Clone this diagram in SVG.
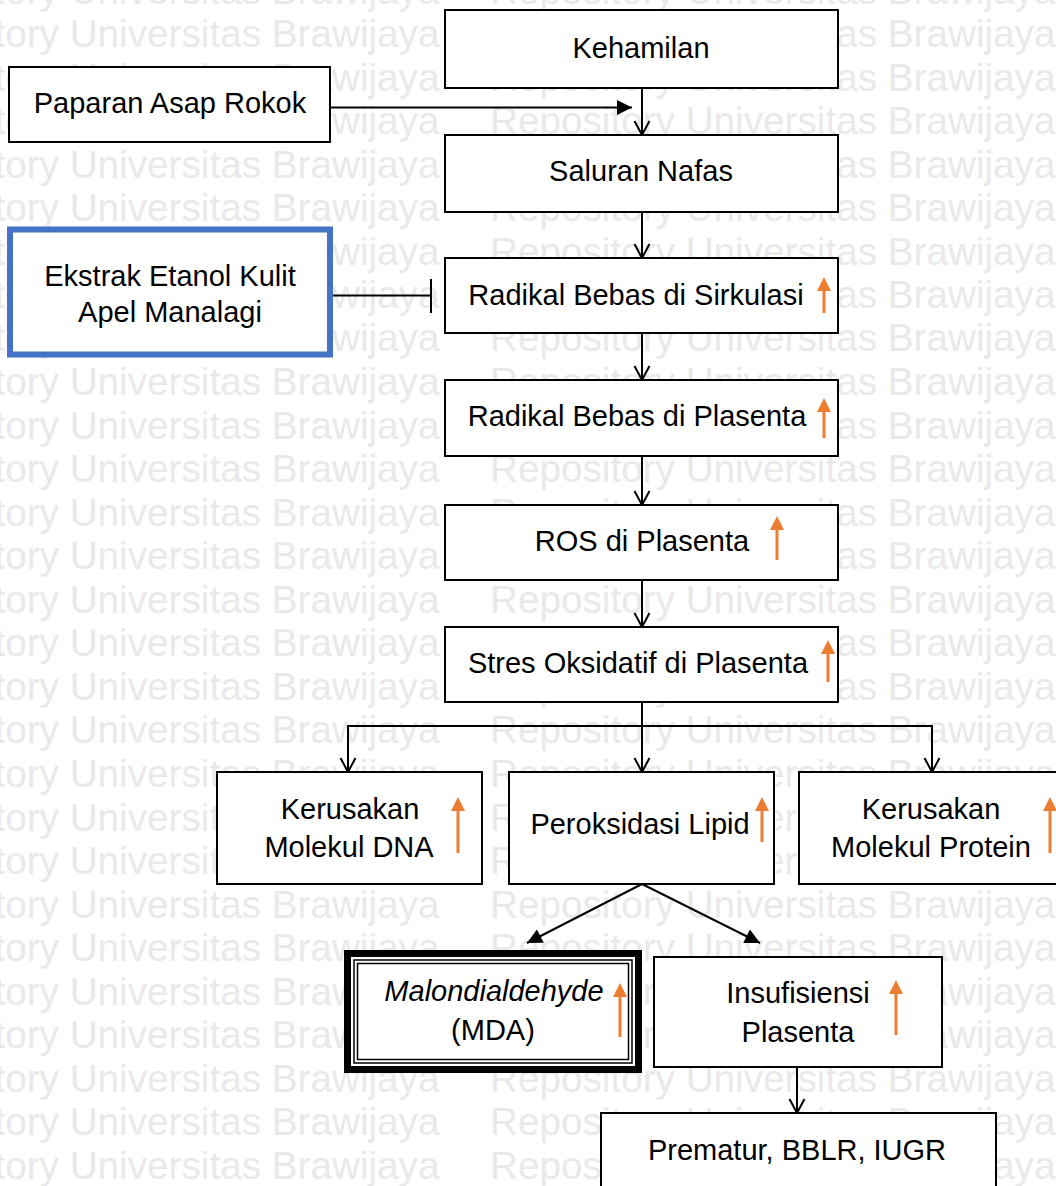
<svg xmlns="http://www.w3.org/2000/svg" width="1056" height="1186" viewBox="0 0 1056 1186">
<style>
.wm{font-family:"Liberation Sans",Arial,sans-serif;font-size:38.7px;fill:#e9e9e9}
.box{fill:#fff;stroke:#000;stroke-width:2}
.t{font-family:"Liberation Sans",Arial,sans-serif;font-size:29px;fill:#000;text-anchor:middle}
.it{font-style:italic}
.c{fill:none;stroke:#000;stroke-width:2}
.up{fill:none;stroke:#ED7D31;stroke-width:3}
.uph{fill:#ED7D31;stroke:none}
</style>
<defs>
<marker id="open" markerUnits="userSpaceOnUse" viewBox="-16 -9 18 18" refX="0" refY="0" markerWidth="18" markerHeight="18" orient="auto">
<path d="M-14,-7.5 L0,0 L-14,7.5" fill="none" stroke="#000" stroke-width="2"/>
</marker>
<marker id="solid" markerUnits="userSpaceOnUse" viewBox="-16 -9 18 18" refX="0" refY="0" markerWidth="18" markerHeight="18" orient="auto">
<path d="M-15,-7.5 L0,0 L-15,7.5 Z" fill="#000"/>
</marker>
</defs>
<rect width="1056" height="1186" fill="#fff"/>
<g id="watermark">
<text class="wm" x="-126" y="3.5">Repository Universitas Brawijaya</text><text class="wm" x="490" y="3.5">Repository Universitas Brawijaya</text>
<text class="wm" x="-126" y="47">Repository Universitas Brawijaya</text><text class="wm" x="490" y="47">Repository Universitas Brawijaya</text>
<text class="wm" x="-126" y="90.6">Repository Universitas Brawijaya</text><text class="wm" x="490" y="90.6">Repository Universitas Brawijaya</text>
<text class="wm" x="-126" y="134.1">Repository Universitas Brawijaya</text><text class="wm" x="490" y="134.1">Repository Universitas Brawijaya</text>
<text class="wm" x="-126" y="177.7">Repository Universitas Brawijaya</text><text class="wm" x="490" y="177.7">Repository Universitas Brawijaya</text>
<text class="wm" x="-126" y="221.2">Repository Universitas Brawijaya</text><text class="wm" x="490" y="221.2">Repository Universitas Brawijaya</text>
<text class="wm" x="-126" y="264.8">Repository Universitas Brawijaya</text><text class="wm" x="490" y="264.8">Repository Universitas Brawijaya</text>
<text class="wm" x="-126" y="308.3">Repository Universitas Brawijaya</text><text class="wm" x="490" y="308.3">Repository Universitas Brawijaya</text>
<text class="wm" x="-126" y="351.4">Repository Universitas Brawijaya</text><text class="wm" x="490" y="351.4">Repository Universitas Brawijaya</text>
<text class="wm" x="-126" y="395">Repository Universitas Brawijaya</text><text class="wm" x="490" y="395">Repository Universitas Brawijaya</text>
<text class="wm" x="-126" y="438.5">Repository Universitas Brawijaya</text><text class="wm" x="490" y="438.5">Repository Universitas Brawijaya</text>
<text class="wm" x="-126" y="482.1">Repository Universitas Brawijaya</text><text class="wm" x="490" y="482.1">Repository Universitas Brawijaya</text>
<text class="wm" x="-126" y="525.6">Repository Universitas Brawijaya</text><text class="wm" x="490" y="525.6">Repository Universitas Brawijaya</text>
<text class="wm" x="-126" y="569.2">Repository Universitas Brawijaya</text><text class="wm" x="490" y="569.2">Repository Universitas Brawijaya</text>
<text class="wm" x="-126" y="612.7">Repository Universitas Brawijaya</text><text class="wm" x="490" y="612.7">Repository Universitas Brawijaya</text>
<text class="wm" x="-126" y="656.3">Repository Universitas Brawijaya</text><text class="wm" x="490" y="656.3">Repository Universitas Brawijaya</text>
<text class="wm" x="-126" y="699.8">Repository Universitas Brawijaya</text><text class="wm" x="490" y="699.8">Repository Universitas Brawijaya</text>
<text class="wm" x="-126" y="743.4">Repository Universitas Brawijaya</text><text class="wm" x="490" y="743.4">Repository Universitas Brawijaya</text>
<text class="wm" x="-126" y="786.9">Repository Universitas Brawijaya</text><text class="wm" x="490" y="786.9">Repository Universitas Brawijaya</text>
<text class="wm" x="-126" y="830.5">Repository Universitas Brawijaya</text><text class="wm" x="490" y="830.5">Repository Universitas Brawijaya</text>
<text class="wm" x="-126" y="874">Repository Universitas Brawijaya</text><text class="wm" x="490" y="874">Repository Universitas Brawijaya</text>
<text class="wm" x="-126" y="917.6">Repository Universitas Brawijaya</text><text class="wm" x="490" y="917.6">Repository Universitas Brawijaya</text>
<text class="wm" x="-126" y="961.1">Repository Universitas Brawijaya</text><text class="wm" x="490" y="961.1">Repository Universitas Brawijaya</text>
<text class="wm" x="-126" y="1004.7">Repository Universitas Brawijaya</text><text class="wm" x="490" y="1004.7">Repository Universitas Brawijaya</text>
<text class="wm" x="-126" y="1048.2">Repository Universitas Brawijaya</text><text class="wm" x="490" y="1048.2">Repository Universitas Brawijaya</text>
<text class="wm" x="-126" y="1091.8">Repository Universitas Brawijaya</text><text class="wm" x="490" y="1091.8">Repository Universitas Brawijaya</text>
<text class="wm" x="-126" y="1135.3">Repository Universitas Brawijaya</text><text class="wm" x="490" y="1135.3">Repository Universitas Brawijaya</text>
<text class="wm" x="-126" y="1178.9">Repository Universitas Brawijaya</text><text class="wm" x="490" y="1178.9">Repository Universitas Brawijaya</text>
</g>
<g id="connectors">
<line class="c" x1="331" y1="107.5" x2="632" y2="107.5" marker-end="url(#solid)"/>
<line class="c" x1="642" y1="88" x2="642" y2="135" marker-end="url(#open)"/>
<line class="c" x1="642" y1="212" x2="642" y2="258" marker-end="url(#open)"/>
<line class="c" x1="333" y1="295.5" x2="431" y2="295.5"/>
<line class="c" x1="431" y1="279" x2="431" y2="313"/>
<line class="c" x1="642" y1="333" x2="642" y2="380" marker-end="url(#open)"/>
<line class="c" x1="642" y1="456" x2="642" y2="505" marker-end="url(#open)"/>
<line class="c" x1="642" y1="580" x2="642" y2="627" marker-end="url(#open)"/>
<line class="c" x1="642" y1="702" x2="642" y2="772" marker-end="url(#open)"/>
<polyline class="c" points="348,772 348,726 932,726 932,772"/>
<line class="c" x1="348" y1="740" x2="348" y2="772" marker-end="url(#open)"/>
<line class="c" x1="932" y1="740" x2="932" y2="772" marker-end="url(#open)"/>
<line class="c" x1="642" y1="884" x2="527" y2="943" marker-end="url(#solid)"/>
<line class="c" x1="642" y1="884" x2="760" y2="943" marker-end="url(#solid)"/>
<line class="c" x1="797" y1="1067" x2="797" y2="1113" marker-end="url(#open)"/>
</g>
<g id="kehamilan"><rect class="box" x="445" y="10" width="393" height="78"/><text class="t" x="641" y="58">Kehamilan</text></g>
<g id="paparan"><rect class="box" x="9" y="67" width="321" height="75"/><text class="t" x="170" y="113">Paparan Asap Rokok</text></g>
<g id="saluran"><rect class="box" x="445" y="135" width="393" height="77"/><text class="t" x="641" y="181">Saluran Nafas</text></g>
<g id="ekstrak"><rect x="10" y="229.5" width="320" height="125" fill="#fff" stroke="#4472C4" stroke-width="6"/><text class="t" x="170" y="286">Ekstrak Etanol Kulit</text><text class="t" x="170" y="322">Apel Manalagi</text></g>
<g id="sirkulasi"><rect class="box" x="445" y="258" width="393" height="75"/><text class="t" x="636" y="305">Radikal Bebas di Sirkulasi</text>
<path class="up" d="M824,313 V288"/><path class="uph" d="M817,291 L831,291 L824,277 Z"/></g>
<g id="radplasenta"><rect class="box" x="445" y="380" width="393" height="76"/><text class="t" x="637" y="426">Radikal Bebas di Plasenta</text>
<path class="up" d="M824,438 V409"/><path class="uph" d="M817,412 L831,412 L824,398 Z"/></g>
<g id="ros"><rect class="box" x="445" y="505" width="393" height="75"/><text class="t" x="642" y="551">ROS di Plasenta</text>
<path class="up" d="M777,560 V527"/><path class="uph" d="M770,530 L784,530 L777,516 Z"/></g>
<g id="stres"><rect class="box" x="445" y="627" width="393" height="75"/><text class="t" x="638" y="673">Stres Oksidatif di Plasenta</text>
<path class="up" d="M828,682 V651"/><path class="uph" d="M821,654 L835,654 L828,640 Z"/></g>
<g id="dna"><rect class="box" x="217" y="772" width="265" height="112"/><text class="t" x="350" y="819">Kerusakan</text><text class="t" x="349" y="857">Molekul DNA</text>
<path class="up" d="M458,853 V808"/><path class="uph" d="M451,811 L465,811 L458,797 Z"/></g>
<g id="lipid"><rect class="box" x="509" y="772" width="265" height="112"/><text class="t" x="640" y="834">Peroksidasi Lipid</text>
<path class="up" d="M762,842 V808"/><path class="uph" d="M755,811 L769,811 L762,797 Z"/></g>
<g id="protein"><rect class="box" x="799" y="772" width="266" height="112"/><text class="t" x="931" y="819">Kerusakan</text><text class="t" x="931" y="857">Molekul Protein</text>
<path class="up" d="M1050,853 V808"/><path class="uph" d="M1043,811 L1057,811 L1050,797 Z"/></g>
<g id="mda"><rect x="347.5" y="953.5" width="291" height="116" fill="#fff" stroke="#000" stroke-width="7"/>
<rect x="354" y="960" width="278" height="103" fill="none" stroke="#000" stroke-width="1.5"/>
<rect x="357.5" y="963.5" width="271" height="96" fill="none" stroke="#000" stroke-width="1.5"/>
<text class="t it" x="494" y="1001">Malondialdehyde</text><text class="t" x="493" y="1040">(MDA)</text>
<path class="up" d="M620,1037 V994"/><path class="uph" d="M613,997 L627,997 L620,983 Z"/></g>
<g id="insufisiensi"><rect class="box" x="654" y="957" width="288" height="110"/><text class="t" x="798" y="1003">Insufisiensi</text><text class="t" x="798" y="1042">Plasenta</text>
<path class="up" d="M896,1035 V991"/><path class="uph" d="M889,994 L903,994 L896,980 Z"/></g>
<g id="prematur"><rect class="box" x="601" y="1113" width="395" height="90"/><text class="t" x="797" y="1160">Prematur, BBLR, IUGR</text></g>
</svg>
